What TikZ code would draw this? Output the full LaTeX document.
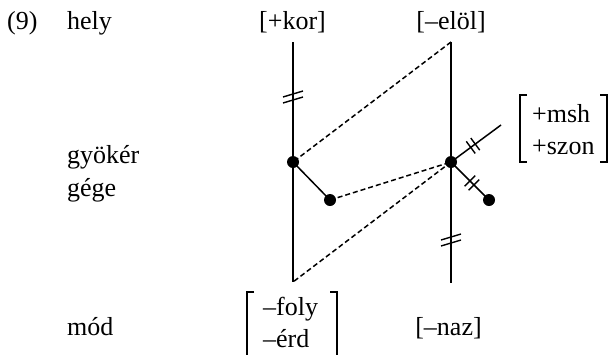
\documentclass[tikz,border=0pt]{standalone}
\usepackage{fontspec}
\setmainfont{Liberation Serif}
\usetikzlibrary{decorations.markings}
\begin{document}
\begin{tikzpicture}[x=1pt,y=-1pt,
  lbl/.style={anchor=base west, inner sep=0pt, font=\fontsize{26}{30}\selectfont},
  clbl/.style={anchor=base, inner sep=0pt, font=\fontsize{26}{30}\selectfont},
  solidline/.style={line width=1.5pt},
  dashline/.style={line width=1.5pt, dash pattern=on 5pt off 3pt},
  dot/.style={circle, fill=black, inner sep=0pt, minimum size=12pt},
  brk/.style={line width=1.3pt},
  hashline/.style={line width=1.4pt},
  dblhash/.style={postaction={decorate}, decoration={markings, mark=at position #1 with {\draw[hashline] (-2.8,-7.5) -- (-2.8,7.5) (2.8,-7.5) -- (2.8,7.5);}}}
]
\useasboundingbox (0,0) rectangle (610,354);

% labels
\node[lbl] (num) at (7,29) {(9)};
\node[lbl] (hely) at (67,29) {hely};
\node[lbl] (gyoker) at (67,163) {gyökér};
\node[lbl] (gege) at (67,196) {gége};
\node[lbl] (mod) at (67,335) {mód};
\node[clbl] (kor) at (292.5,29) {[+kor]};
\node[clbl] (elol) at (451,29) {[–elöl]};
\node[clbl] (naz) at (448.5,335) {[–naz]};
\node[lbl] (msh) at (532,122) {+msh};
\node[lbl] (szon) at (532,154) {+szon};
\node[lbl] (foly) at (263,315) {–foly};
\node[lbl] (erd) at (263,347) {–érd};

% brackets
\draw[brk] (527,95) -- (520,95) -- (520,162) -- (527,162);
\draw[brk] (600,95) -- (607,95) -- (607,162) -- (600,162);
\draw[brk] (254,292) -- (247,292) -- (247,356);
\draw[brk] (330,292) -- (337,292) -- (337,356);

% coordinates
\coordinate (Ltop) at (293,42);
\coordinate (Lbot) at (293,282);
\coordinate (Rtop) at (451,42);
\coordinate (Rbot) at (451,283);
\coordinate (E) at (501,125);
\coordinate (hL) at (293,97);
\coordinate (hR) at (451,240);

% dots
\node[dot] (L) at (293,162) {};
\node[dot] (M) at (330,200) {};
\node[dot] (R) at (451,162) {};
\node[dot] (Q) at (489,200) {};

% tiers
\draw[solidline] (Ltop) -- (Lbot);
\draw[solidline] (Rtop) -- (Rbot);
\draw[solidline] (L.center) -- (M.center);
\draw[solidline, dblhash=0.44] (R.center) -- (E);
\draw[solidline, dblhash=0.55] (R.center) -- (Q.center);

% double hash marks on vertical lines
\foreach \h in {hL,hR}{
  \draw[hashline] ([shift={(-10,0)}]\h) -- ([shift={(10,-6)}]\h);
  \draw[hashline] ([shift={(-10,6)}]\h) -- ([shift={(10,0)}]\h);
}

% association lines
\draw[dashline] (Rtop) -- (L.center);
\draw[dashline] (M.center) -- (R.center);
\draw[dashline] (R.center) -- (Lbot);
\end{tikzpicture}
\end{document}
